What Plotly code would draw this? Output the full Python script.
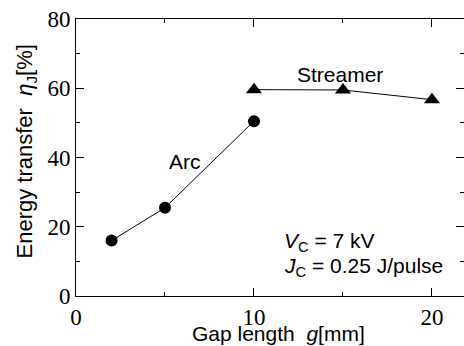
import plotly.graph_objects as go

arc_gap = [2, 5, 10]
arc_eff = [16.0, 25.5, 50.5]
streamer_gap = [10, 15, 20]
streamer_eff = [59.6, 59.5, 56.7]

x_ticks = [0, 10, 20]
y_ticks = [0, 20, 40, 60, 80]

SANS = "Liberation Sans, Arial, sans-serif"
SERIF = "Liberation Serif, Times New Roman, Times, serif"

fig = go.Figure()
fig.add_trace(go.Scatter(x=arc_gap, y=arc_eff, mode="lines+markers",
                         line=dict(color="black", width=1),
                         marker=dict(symbol="circle", size=12, color="black"),
                         showlegend=False))
fig.add_trace(go.Scatter(x=streamer_gap, y=streamer_eff, mode="lines+markers",
                         line=dict(color="black", width=1),
                         marker=dict(symbol="triangle-up", size=14, color="black"),
                         showlegend=False))

ann_font = dict(family=SANS, size=21, color="black")
fig.add_annotation(x=14.83, y=63.9, text="Streamer", showarrow=False, font=ann_font)
fig.add_annotation(x=6.12, y=38.9, text="Arc", showarrow=False, font=ann_font)
fig.add_annotation(x=11.6, y=15.5, text="<i>V</i><sub>C</sub> = 7 kV", showarrow=False,
                   font=ann_font, xanchor="left")
fig.add_annotation(x=11.6, y=8.3, text="<i>J</i><sub>C</sub> = 0.25 J/pulse", showarrow=False,
                   font=ann_font, xanchor="left")
# axis titles as annotations
fig.add_annotation(xref="paper", yref="paper", x=-0.128, y=0.523,
                   text="Energy transfer\u00a0\u00a0<i>η</i><sub>J</sub>[%]", textangle=-90,
                   showarrow=False, xanchor="center", yanchor="middle",
                   font=dict(family=SANS, size=22, color="black"))
fig.add_annotation(xref="paper", yref="paper", x=0.522, y=-0.137,
                   text="Gap length\u00a0\u00a0<i>g</i>[mm]",
                   showarrow=False, xanchor="center", yanchor="middle",
                   font=dict(family=SANS, size=21, color="black"))

fig.update_layout(
    width=464, height=346,
    margin=dict(l=76, r=0, t=19, b=50),
    paper_bgcolor="white", plot_bgcolor="white",
    xaxis=dict(range=[0, 21.8], tickvals=x_ticks, ticks="inside", ticklen=8,
               tickcolor="black", showline=True, linecolor="black", linewidth=1,
               mirror="ticks", showgrid=False, zeroline=False,
               tickfont=dict(family=SERIF, size=23, color="black"),
               minor=dict(dtick=5, tick0=0, ticks="inside", ticklen=4, tickcolor="black", showgrid=False)),
    yaxis=dict(range=[0, 80], tickvals=y_ticks, ticks="inside", ticklen=8,
               tickcolor="black", showline=True, linecolor="black", linewidth=1,
               mirror="ticks", showgrid=False, zeroline=False,
               tickfont=dict(family=SERIF, size=23, color="black"),
               minor=dict(dtick=10, tick0=0, ticks="inside", ticklen=4, tickcolor="black", showgrid=False)),
)

fig.write_html("out.html")
